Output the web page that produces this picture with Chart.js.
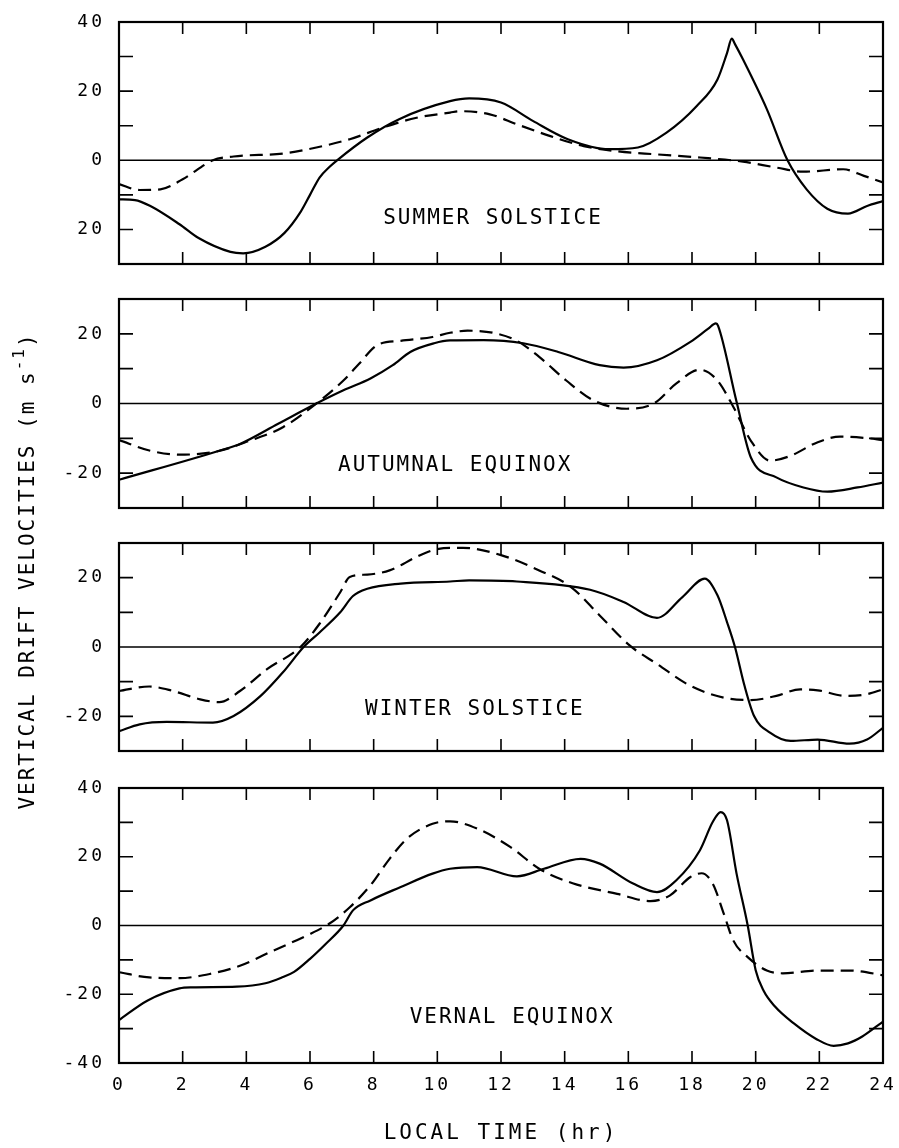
<!DOCTYPE html>
<html>
<head>
<meta charset="utf-8">
<script src="https://cdn.jsdelivr.net/npm/chart.js@4/dist/chart.umd.min.js"></script>
<style>
  body { margin: 0; background: #fff; }
  #wrap { position: relative; width: 899px; height: 1148px; overflow: hidden; }
  #wrap canvas { position: absolute; left: 0; }
  #ytitle {
    position: absolute; left: -233px; top: 558px; width: 520px; height: 26px;
    line-height: 26px; text-align: center; transform: rotate(-90deg);
    font-family: "DejaVu Sans Mono", monospace; font-size: 21px; letter-spacing: 2px; color: #000;
    white-space: nowrap;
  }
  #ytitle sup { font-size: 16px; line-height: 0; position: relative; top: -2px; }
</style>
</head>
<body>
<div id="wrap">
  <canvas id="summer" width="899" height="262" style="top:8px"></canvas>
  <canvas id="autumn" width="899" height="229" style="top:285px"></canvas>
  <canvas id="winter" width="899" height="228" style="top:529px"></canvas>
  <canvas id="vernal" width="899" height="374" style="top:774px"></canvas>
  <div id="ytitle">VERTICAL DRIFT VELOCITIES (m s<sup>-1</sup>)</div>
</div>
<script>
// local time of day (hr) and drift velocity (m/s), solid and dashed curves per season
const summerSolidHr = [0, 0.5, 1.0, 1.9, 2.5, 3.5, 3.9, 4.6, 5.2, 5.7, 6.0, 6.3, 6.6, 6.85, 7.8, 8.8, 10.4, 11.0, 12.0, 13.0, 14.1, 15.4, 16.3, 17.2, 18.15, 18.8, 19.1, 19.25, 19.35, 19.6, 20.35, 21.0, 21.6, 22.25, 22.9, 23.5, 24];
const summerSolidV = [-11.3, -11.5, -13.3, -18.5, -22.5, -26.5, -26.9, -25.0, -21.0, -15.0, -10.0, -5.0, -2.0, 0, 6.6, 11.9, 17.1, 17.9, 16.7, 11.4, 6.1, 3.2, 3.7, 8.0, 15.7, 23.4, 31.0, 35.2, 33.6, 29.2, 14.8, 0, -8.4, -14.0, -15.4, -13.2, -11.8];
const summerDashHr = [0, 0.65, 1.3, 2.0, 2.95, 3.6, 5.2, 6.2, 7.25, 8.3, 9.35, 10.4, 10.7, 11.65, 12.5, 13.55, 14.6, 15.65, 16.9, 18.25, 19.6, 20.65, 21.5, 22.75, 23.4, 24];
const summerDashV = [-6.9, -8.6, -8.4, -5.5, 0, 1.1, 2.0, 3.7, 6.1, 9.5, 12.3, 13.8, 14.2, 13.3, 10.4, 7.0, 4.1, 2.6, 1.7, 0.8, -0.4, -2.1, -3.3, -2.6, -4.5, -6.4];

const autumnSolidHr = [0, 3.1, 3.8, 5.0, 6.2, 7.05, 7.9, 8.6, 9.15, 9.9, 10.4, 11.45, 12.7, 13.8, 15.1, 15.85, 16.9, 17.95, 18.5, 18.75, 18.82, 19.4, 19.85, 20.65, 21.5, 22.25, 23.2, 24];
const autumnSolidV = [-21.9, -13.7, -11.6, -5.8, 0, 3.8, 7.2, 11.0, 14.8, 17.3, 18.1, 18.2, 17.3, 14.8, 11.0, 10.3, 12.4, 17.7, 21.4, 23.0, 22.3, 0.5, -15.5, -21.2, -24.1, -25.3, -24.1, -22.7];
const autumnDashHr = [0, 1.0, 1.9, 3.1, 4.1, 5.15, 6.2, 7.05, 7.55, 8.1, 8.85, 9.85, 10.4, 10.95, 11.75, 12.5, 13.2, 14.05, 14.9, 15.95, 16.8, 17.5, 18.25, 18.8, 19.3, 19.85, 20.45, 21.1, 21.95, 22.65, 23.45, 24];
const autumnDashV = [-10.5, -13.6, -14.7, -13.7, -10.7, -6.8, 0, 6.6, 11.5, 16.7, 18.0, 19.1, 20.3, 20.9, 20.3, 18.0, 13.4, 6.6, 0.9, -1.5, 0, 5.7, 9.7, 6.6, -1.0, -10.7, -16.4, -15.0, -11.1, -9.5, -9.9, -10.5];

const winterSolidHr = [0, 0.65, 1.5, 2.95, 3.6, 4.45, 5.15, 5.8, 6.3, 6.95, 7.35, 7.8, 8.85, 10.4, 11.0, 12.5, 14.8, 15.85, 16.9, 17.7, 18.4, 18.8, 19.1, 19.35, 19.65, 19.95, 20.45, 21.1, 21.95, 22.95, 23.5, 24];
const winterSolidV = [-24.3, -22.3, -21.6, -21.8, -19.9, -14.1, -7.3, 0, 4.2, 10.0, 14.7, 16.8, 18.3, 18.9, 19.2, 18.9, 16.5, 13.0, 8.4, 14.4, 19.7, 14.9, 7.2, 0, -11.2, -19.9, -24.7, -27.1, -26.7, -27.9, -26.7, -23.3];
const winterDashHr = [0, 0.95, 1.7, 2.55, 3.15, 3.8, 4.65, 5.7, 6.3, 6.95, 7.25, 7.8, 8.5, 9.35, 9.85, 10.4, 10.8, 12.0, 13.2, 14.2, 15.1, 16.05, 16.9, 17.95, 19.0, 19.85, 20.65, 21.4, 21.95, 22.85, 23.5, 24];
const winterDashV = [-12.7, -11.4, -12.7, -15.1, -15.9, -12.7, -6.4, 0, 6.7, 15.8, 20.2, 20.9, 22.1, 26.0, 27.9, 28.6, 28.6, 26.5, 22.1, 17.3, 9.1, 0.4, -4.9, -11.2, -14.6, -15.3, -14.1, -12.2, -12.5, -14.1, -13.6, -12.2];

const vernalSolidHr = [0, 0.9, 1.9, 2.3, 3.7, 4.6, 5.1, 5.5, 6.0, 6.5, 7.05, 7.35, 7.9, 8.85, 9.85, 10.4, 11.25, 12.5, 13.35, 14.5, 15.1, 16.15, 16.9, 17.5, 18.25, 18.65, 18.9, 19.1, 19.4, 19.75, 20.0, 20.25, 20.6, 21.2, 21.9, 22.45, 22.9, 23.35, 23.85, 24];
const vernalSolidV = [-27.5, -21.8, -18.3, -18.0, -17.8, -16.8, -15.2, -13.5, -9.7, -5.3, 0, 4.4, 7.3, 11.2, 15.1, 16.5, 17.0, 14.3, 16.5, 19.4, 18.0, 12.2, 9.7, 13.1, 21.9, 30.1, 33.0, 30.6, 15.1, 0, -13.0, -19.0, -23.5, -28.5, -33.0, -35.0, -34.3, -32.3, -29.0, -28.0];
const vernalDashHr = [0, 0.95, 1.9, 2.85, 3.8, 4.85, 5.9, 6.6, 7.25, 7.9, 8.5, 9.05, 9.85, 10.4, 11.25, 12.3, 13.2, 14.25, 15.65, 16.7, 17.3, 17.95, 18.3, 18.65, 19.0, 19.3, 19.75, 20.35, 20.85, 21.95, 22.95, 23.9, 24];
const vernalDashV = [-13.6, -15.1, -15.3, -14.1, -11.7, -7.3, -2.9, 0.5, 5.3, 11.7, 19.4, 25.3, 29.6, 30.3, 28.2, 22.8, 16.5, 12.3, 9.2, 7.1, 8.7, 14.1, 15.2, 12.2, 3.4, -4.4, -9.2, -13.1, -13.9, -13.1, -13.1, -14.3, -14.5];

// labelled y ticks (the lower summer label is printed without its minus sign)
const summerTickVals = [40, 20, 0, -20];
const summerTickText = ['40', '20', '0', '20'];
const equinoxTickVals = [20, 0, -20];
const equinoxTickText = ['20', '0', '-20'];
const vernalTickVals = [40, 20, 0, -20, -40];
const vernalTickText = ['40', '20', '0', '-20', '-40'];
const hourTicks = ['0', '2', '4', '6', '8', '10', '12', '14', '16', '18', '20', '22', '24'];

const FONT = '"DejaVu Sans Mono", monospace';

const toPoints = (hr, v) => hr.map((h, i) => ({ x: h, y: v[i] }));

// frame, inward ticks on all four sides, zero line and the season name
const framePlugin = {
  id: 'frame',
  beforeDraw(chart) {
    chart.ctx.letterSpacing = '3px';
  },
  afterDatasetsDraw(chart, args, opts) {
    const { ctx, chartArea: a, scales: { x, y } } = chart;
    ctx.save();
    ctx.strokeStyle = '#000';
    ctx.lineWidth = 1.6;
    ctx.beginPath();
    const y0 = y.getPixelForValue(0);
    ctx.moveTo(a.left, y0);
    ctx.lineTo(a.right, y0);
    y.ticks.forEach(t => {
      if (t.value === y.min || t.value === y.max || t.value === 0) return;
      const py = y.getPixelForValue(t.value);
      ctx.moveTo(a.left, py); ctx.lineTo(a.left + 14, py);
      ctx.moveTo(a.right, py); ctx.lineTo(a.right - 14, py);
    });
    x.ticks.forEach(t => {
      if (t.value === x.min || t.value === x.max) return;
      const px = x.getPixelForValue(t.value);
      ctx.moveTo(px, a.top); ctx.lineTo(px, a.top + 12);
      ctx.moveTo(px, a.bottom); ctx.lineTo(px, a.bottom - 12);
    });
    ctx.stroke();
    ctx.lineWidth = 2.2;
    ctx.strokeRect(a.left, a.top, a.right - a.left, a.bottom - a.top);

    ctx.letterSpacing = '2px';
    ctx.font = '21px ' + FONT;
    ctx.fillStyle = '#000';
    ctx.textAlign = 'center';
    ctx.textBaseline = 'middle';
    ctx.fillText(opts.text, x.getPixelForValue(opts.at[0]), y.getPixelForValue(opts.at[1]));
    ctx.restore();
  }
};

function drawPanel(id, p) {
  new Chart(document.getElementById(id), {
    type: 'line',
    data: {
      datasets: [
        { data: toPoints(p.solidHr, p.solidV), borderColor: '#000', borderWidth: 2.2,
          pointRadius: 0, cubicInterpolationMode: 'monotone' },
        { data: toPoints(p.dashHr, p.dashV), borderColor: '#000', borderWidth: 2.2,
          borderDash: [13, 7], pointRadius: 0, cubicInterpolationMode: 'monotone' }
      ]
    },
    options: {
      responsive: false,
      animation: false,
      events: [],
      layout: { padding: { top: 14, right: 16, left: 0, bottom: 0 } },
      plugins: {
        legend: { display: false },
        tooltip: { enabled: false },
        frame: { text: p.label, at: p.labelAt }
      },
      scales: {
        x: {
          type: 'linear', min: 0, max: 24,
          grid: { display: false },
          border: { display: false },
          afterFit: s => { s.height = p.axisH; s.paddingLeft = 0; s.paddingRight = 0; },
          ticks: {
            display: p.showHours, stepSize: 2, autoSkip: false, maxRotation: 0, padding: 4,
            color: '#000', font: { family: FONT, size: 18 },
            callback: v => hourTicks[v / 2]
          },
          title: {
            display: p.showHours, text: 'LOCAL TIME (hr)', color: '#000',
            font: { family: FONT, size: 21 }, padding: { top: 0, bottom: 2 }
          }
        },
        y: {
          min: p.min, max: p.max,
          grid: { display: false },
          border: { display: false },
          afterFit: s => { s.width = 119; s.paddingTop = 0; s.paddingBottom = 0; },
          ticks: {
            stepSize: 10, autoSkip: false, padding: 6,
            color: '#000', font: { family: FONT, size: 18 },
            callback: v => {
              const i = p.tickVals.indexOf(v);
              return i >= 0 ? p.tickText[i] : '';
            }
          }
        }
      }
    },
    plugins: [framePlugin]
  });
}

drawPanel('summer', {
  solidHr: summerSolidHr, solidV: summerSolidV, dashHr: summerDashHr, dashV: summerDashV,
  min: -30, max: 40, tickVals: summerTickVals, tickText: summerTickText,
  label: 'SUMMER SOLSTICE', labelAt: [11.75, -16.8], axisH: 6, showHours: false
});
drawPanel('autumn', {
  solidHr: autumnSolidHr, solidV: autumnSolidV, dashHr: autumnDashHr, dashV: autumnDashV,
  min: -30, max: 30, tickVals: equinoxTickVals, tickText: equinoxTickText,
  label: 'AUTUMNAL EQUINOX', labelAt: [10.56, -17.9], axisH: 6, showHours: false
});
drawPanel('winter', {
  solidHr: winterSolidHr, solidV: winterSolidV, dashHr: winterDashHr, dashV: winterDashV,
  min: -30, max: 30, tickVals: equinoxTickVals, tickText: equinoxTickText,
  label: 'WINTER SOLSTICE', labelAt: [11.18, -18.0], axisH: 6, showHours: false
});
drawPanel('vernal', {
  solidHr: vernalSolidHr, solidV: vernalSolidV, dashHr: vernalDashHr, dashV: vernalDashV,
  min: -40, max: 40, tickVals: vernalTickVals, tickText: vernalTickText,
  label: 'VERNAL EQUINOX', labelAt: [12.35, -26.8], axisH: 85, showHours: true
});
</script>
</body>
</html>
